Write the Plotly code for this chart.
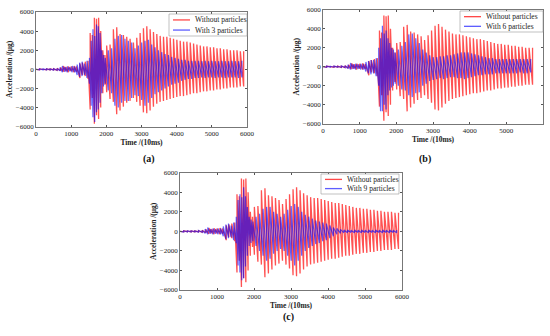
import plotly.graph_objects as go

# ---------------- data ----------------
# "Without particles": spike times (10 ms units) and positive / negative peaks (ug)
red_t = [100, 200, 300, 400, 500, 600, 700, 780, 850, 920, 1000, 1080, 1150, 1250, 1320, 1400, 1480,
         1540, 1600, 1660, 1720, 1780, 1840, 1900, 1960,
         2010, 2105, 2200, 2295, 2390, 2485, 2580, 2675, 2770, 2865, 2960, 3055, 3150, 3245, 3340,
         3435, 3530, 3625, 3720, 3815, 3910, 4005, 4100, 4195, 4290, 4385, 4480, 4575, 4670, 4765,
         4860, 4955, 5050, 5145, 5240, 5335, 5430, 5525, 5620, 5715, 5810, 5905]
red_hi = [50, 40, 50, 50, 60, 100, 200, 350, 250, 300, 300, 350, 300, 600, 700, 800, 900,
          3800, 3600, 5400, 5300, 5400, 4000, 2000, 1500,
          2500, 2600, 4200, 4400, 3700, 3600, 3400, 3200, 2800, 3300, 3800, 4300, 4500, 4200, 3900,
          3700, 3500, 3400, 3400, 3300, 3200, 3100, 3000, 2900, 2900, 2800, 2700, 2600, 2500, 2400,
          2400, 2300, 2300, 2200, 2200, 2100, 2100, 2000, 2000, 2000, 1900, 1900]
red_lo = [-50, -40, -50, -50, -60, -100, -150, -250, -200, -300, -200, -300, -250, -900, -600, -700, -1000,
          -4200, -3000, -5700, -4800, -5200, -4000, -2500, -1600,
          -2400, -3100, -3400, -4700, -4300, -3900, -3500, -3300, -3000, -3400, -3800, -4500, -4600, -4300, -3900,
          -3600, -3400, -3300, -3200, -3100, -3000, -2900, -2800, -2800, -2700, -2600, -2500, -2500, -2400, -2300,
          -2300, -2200, -2200, -2100, -2100, -2000, -2000, -1900, -1900, -1900, -1800, -1800]

# "With N particles": common spike times, peaks per case
blue_t = [100, 200, 300, 400, 500, 600,
          680, 750, 820, 890, 960, 1030, 1100, 1170, 1240, 1310, 1380, 1450, 1520,
          1570, 1620, 1670, 1720, 1770, 1820, 1870, 1920, 1970,
          2055, 2150, 2245, 2340, 2435, 2530, 2625, 2720, 2815, 2910,
          3005, 3100, 3195, 3290, 3385, 3480, 3575, 3670, 3765, 3860,
          3955, 4050, 4145, 4240, 4335, 4430, 4525, 4620, 4715, 4810,
          4905, 5000, 5095, 5190, 5285, 5380, 5475, 5570, 5665, 5760, 5855]

p3_hi = [60, 50, 60, 50, 80, 100,
         200, 350, 250, 300, 250, 350, 300, 500, 700, 800, 600, 900, 1200,
         3000, 4200, 3500, 4700, 4500, 3800, 2000, 1500, 1200,
         2000, 2200, 3200, 3500, 3600, 3200, 3000, 2800, 2200, 2500,
         2800, 3000, 3100, 2600, 2300, 2000, 1800, 1600, 1500, 1300,
         1200, 1100, 1000, 1000, 900, 900, 900, 900, 850, 900,
         850, 900, 850, 850, 900, 850, 850, 900, 850, 850, 900]
p3_lo = [-60, -50, -60, -50, -80, -100,
         -150, -300, -250, -300, -200, -300, -300, -600, -800, -700, -600, -900, -1500,
         -3800, -5000, -5500, -4500, -4200, -3500, -2500, -1800, -1500,
         -2200, -2500, -3800, -4000, -3500, -3300, -3300, -3000, -2700, -2800,
         -3200, -3800, -3500, -3000, -2600, -2400, -2200, -2000, -1800, -1600,
         -1500, -1400, -1200, -1100, -1000, -1000, -900, -900, -850, -900,
         -850, -850, -900, -850, -850, -900, -850, -850, -850, -900, -850]

p6_hi = [60, 50, 60, 50, 80, 100,
         200, 400, 250, 300, 250, 300, 300, 500, 600, 700, 700, 900, 2000,
         3000, 4300, 3500, 3800, 3000, 2500, 2000, 1800, 1500,
         1800, 2200, 2600, 3400, 3500, 3000, 2500, 1800, 1500, 1200,
         1000, 1000, 1100, 1100, 1200, 1200, 1300, 1400, 1500, 1500,
         1500, 1400, 1300, 1200, 1100, 1000, 900, 900, 800, 800,
         800, 800, 800, 800, 800, 800, 800, 800, 800, 800, 800]
p6_lo = [-60, -50, -60, -50, -80, -100,
         -200, -300, -250, -300, -250, -300, -300, -500, -700, -800, -700, -1000, -2000,
         -4700, -4700, -4000, -4500, -3000, -2500, -2200, -2000, -1800,
         -2000, -2400, -2500, -3000, -3200, -2800, -2700, -2000, -1800, -1500,
         -1400, -1300, -1200, -1300, -1200, -1100, -1100, -1200, -1200, -1300,
         -1200, -1100, -1000, -900, -900, -800, -800, -800, -700, -700,
         -700, -700, -700, -700, -700, -600, -700, -700, -600, -700, -700]

p9_hi = [60, 50, 60, 50, 80, 100,
         250, 400, 250, 300, 250, 300, 300, 500, 700, 800, 600, 900, 1500,
         3200, 3800, 3500, 4500, 3600, 2500, 1500, 1200, 1000,
         1500, 1800, 2300, 2500, 2500, 2000, 1800, 1500, 1800, 2200,
         2600, 2800, 2500, 2000, 1700, 1500, 1300, 1100, 1000, 900,
         800, 600, 400, 300, 200, 150, 150, 120, 150, 120,
         150, 120, 150, 120, 150, 120, 150, 120, 150, 120, 150]
p9_lo = [-60, -50, -60, -50, -80, -100,
         -200, -300, -250, -300, -250, -300, -300, -500, -800, -700, -600, -900, -1200,
         -3500, -4200, -5000, -4800, -3600, -2500, -1500, -1200, -1000,
         -1500, -2000, -2500, -3000, -2800, -2300, -2000, -1800, -2000, -2500,
         -3000, -3500, -3000, -2500, -2000, -1700, -1500, -1300, -1200, -1000,
         -900, -700, -500, -300, -200, -150, -150, -120, -150, -120,
         -150, -120, -150, -120, -150, -120, -150, -120, -150, -120, -150]

x_ticks = [0, 1000, 2000, 3000, 4000, 5000, 6000]
y_ticks = [-6000, -4000, -2000, 0, 2000, 4000, 6000]
panels = ["(a)", "(b)", "(c)"]
red_name = "Without particles"
blue_names = ["With 3 particles", "With 6 particles", "With 9 particles"]
t_end = [6000, 5720, 6000]

# ---------------- helpers ----------------
def saw(t, hi, lo, tmax):
    xs, ys = [0], [0]
    for ti, h, l in zip(t, hi, lo):
        if ti > tmax:
            break
        xs += [ti, ti]
        ys += [l, h]
    return xs, ys

FONT = "Liberation Serif"
RED = "rgba(255,0,0,0.68)"
BLUE = "rgba(0,0,255,0.6)"
RED_KEY = "rgba(255,40,40,0.85)"
BLUE_KEY = "rgba(40,40,255,0.75)"

fig = go.Figure()

W, H = 550, 336
px = lambda v: v / W
py = lambda v: 1 - v / H
boxes = [(36, 247, 12, 126.7), (323, 543, 9.7, 123.7), (180, 402, 172.7, 290)]
# legend boxes: (left, right, top, bottom) in pixels
leg_boxes = [(169, 247, 14, 36), (460, 543, 11, 32), (321, 399, 174, 194)]
blues = [(p3_hi, p3_lo), (p6_hi, p6_lo), (p9_hi, p9_lo)]

for i in range(3):
    xa = "x" if i == 0 else f"x{i+1}"
    ya = "y" if i == 0 else f"y{i+1}"
    rx, ry = saw(red_t, red_hi, red_lo, t_end[i])
    fig.add_trace(go.Scatter(x=rx, y=ry, mode="lines", name=red_name, showlegend=False,
                             line=dict(color=RED, width=1.3), xaxis=xa, yaxis=ya))
    bx, by = saw(blue_t, blues[i][0], blues[i][1], t_end[i])
    fig.add_trace(go.Scatter(x=bx, y=by, mode="lines", name=blue_names[i], showlegend=False,
                             line=dict(color=BLUE, width=1.2), xaxis=xa, yaxis=ya))

    x0, x1, y0, y1 = boxes[i]
    axis_common = dict(showline=True, linecolor="#555", linewidth=0.8, mirror="ticks",
                       ticks="inside", ticklen=2, tickcolor="#555", showgrid=False, zeroline=False,
                       automargin=False,
                       tickfont=dict(family=FONT, size=7, color="#222"))
    xkey = "xaxis" if i == 0 else f"xaxis{i+1}"
    ykey = "yaxis" if i == 0 else f"yaxis{i+1}"
    fig.update_layout({
        xkey: dict(domain=[px(x0), px(x1)], range=[0, 6000], tickvals=x_ticks,
                   anchor=ya, title=dict(text="<b>Time /(10ms)</b>", standoff=2,
                                         font=dict(family=FONT, size=7.5, color="#222")),
                   **axis_common),
        ykey: dict(domain=[py(y1), py(y0)], range=[-6000, 6000], tickvals=y_ticks,
                   ticktext=[("\u2212" + str(-v)) if v < 0 else str(v) for v in y_ticks],
                   anchor=xa, title=dict(text="<b>Acceleration /(\u03bcg)</b>", standoff=2,
                                         font=dict(family=FONT, size=7.5, color="#222")),
                   **axis_common),
    })

    # hand-drawn legend box
    l, r, t, b = leg_boxes[i]
    fig.add_shape(type="rect", xref="paper", yref="paper", x0=px(l), x1=px(r), y0=py(b), y1=py(t),
                  line=dict(color="#999", width=0.6), fillcolor="white", layer="above")
    rows = [(red_name, RED_KEY), (blue_names[i], BLUE_KEY)]
    for k, (txt, col) in enumerate(rows):
        yc = t + (b - t) * (0.27 + 0.46 * k)
        fig.add_shape(type="line", xref="paper", yref="paper", x0=px(l + 4), x1=px(l + 21),
                      y0=py(yc), y1=py(yc), line=dict(color=col, width=1.3), layer="above")
        fig.add_annotation(text=txt, x=px(l + 24), y=py(yc), xref="paper", yref="paper",
                           xanchor="left", yanchor="middle", showarrow=False,
                           font=dict(family=FONT, size=7.5, color="#222"))

# panel labels
label_pos = [(141, 159), (433, 159), (288, 325)]
for lab, (lx, ly) in zip(panels, label_pos):
    fig.add_annotation(text=f"<b>{lab}</b>", x=px(lx), y=py(ly), xref="paper", yref="paper",
                       showarrow=False, font=dict(family=FONT, size=10, color="#111"))

fig.update_layout(width=W, height=H, margin=dict(l=0, r=0, t=0, b=0),
                  paper_bgcolor="white", plot_bgcolor="white", showlegend=False)

fig.write_html("out.html", config={"displayModeBar": False, "staticPlot": True},
               post_script="document.body.style.margin='0';")
